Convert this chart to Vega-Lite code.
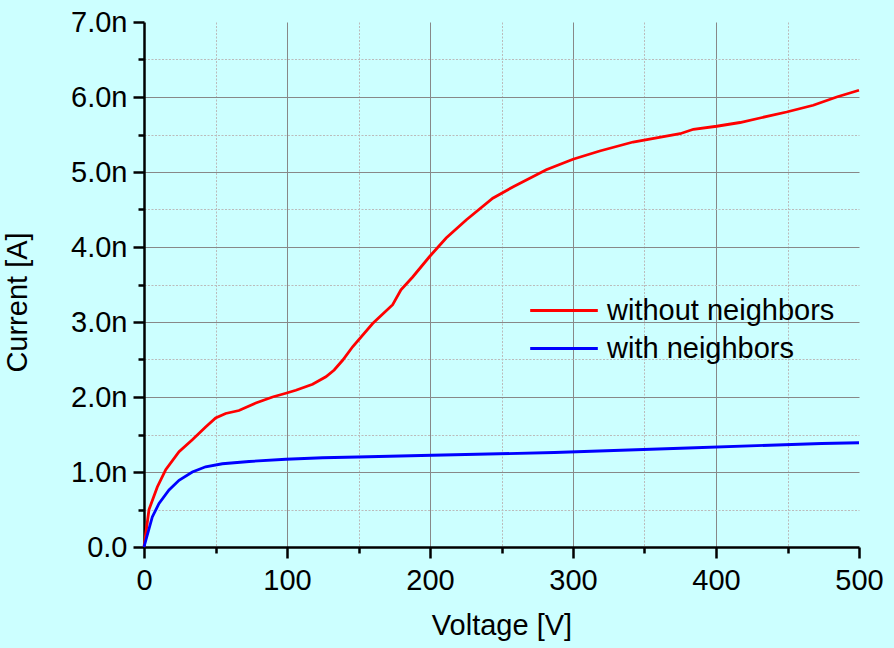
{
  "$schema": "https://vega.github.io/schema/vega-lite/v6.json",
  "width": 715,
  "height": 525,
  "autosize": "none",
  "padding": {"left": 144, "top": 22, "right": 35, "bottom": 101},
  "background": "#ccffff",
  "config": {
    "view": {"stroke": null},
    "font": "Liberation Sans",
    "axis": {
      "labelFont": "Liberation Sans",
      "titleFont": "Liberation Sans",
      "labelFontSize": 29,
      "titleFontSize": 29,
      "titleFontWeight": "normal",
      "labelColor": "#000000",
      "titleColor": "#000000",
      "tickColor": "#000000",
      "domainColor": "#000000",
      "domainWidth": 2.5,
      "tickWidth": 2.5,
      "labelFlush": false
    },
    "legend": {
      "labelFont": "Liberation Sans",
      "labelFontSize": 29,
      "labelColor": "#000000",
      "labelLimit": 0
    }
  },
  "data": {
    "values": [
      {"series": "without neighbors", "V": 0, "I": 0},
      {"series": "without neighbors", "V": 3.5, "I": 0.5},
      {"series": "without neighbors", "V": 9.3, "I": 0.8},
      {"series": "without neighbors", "V": 15.2, "I": 1.03},
      {"series": "without neighbors", "V": 24.5, "I": 1.27},
      {"series": "without neighbors", "V": 33.8, "I": 1.43},
      {"series": "without neighbors", "V": 43.1, "I": 1.6},
      {"series": "without neighbors", "V": 50.1, "I": 1.72},
      {"series": "without neighbors", "V": 57.1, "I": 1.78},
      {"series": "without neighbors", "V": 66.4, "I": 1.82},
      {"series": "without neighbors", "V": 78.2, "I": 1.92},
      {"series": "without neighbors", "V": 89.9, "I": 2.0},
      {"series": "without neighbors", "V": 99.2, "I": 2.05},
      {"series": "without neighbors", "V": 106.2, "I": 2.09},
      {"series": "without neighbors", "V": 117.9, "I": 2.17},
      {"series": "without neighbors", "V": 127.2, "I": 2.27},
      {"series": "without neighbors", "V": 133, "I": 2.36},
      {"series": "without neighbors", "V": 138.9, "I": 2.49},
      {"series": "without neighbors", "V": 145.9, "I": 2.67},
      {"series": "without neighbors", "V": 159.9, "I": 2.98},
      {"series": "without neighbors", "V": 173.9, "I": 3.23},
      {"series": "without neighbors", "V": 179.7, "I": 3.43},
      {"series": "without neighbors", "V": 187.9, "I": 3.6},
      {"series": "without neighbors", "V": 199.6, "I": 3.87},
      {"series": "without neighbors", "V": 211.3, "I": 4.12},
      {"series": "without neighbors", "V": 225.3, "I": 4.36},
      {"series": "without neighbors", "V": 243.9, "I": 4.65},
      {"series": "without neighbors", "V": 257.9, "I": 4.8},
      {"series": "without neighbors", "V": 281.3, "I": 5.03},
      {"series": "without neighbors", "V": 300, "I": 5.17},
      {"series": "without neighbors", "V": 318.7, "I": 5.28},
      {"series": "without neighbors", "V": 342, "I": 5.4},
      {"series": "without neighbors", "V": 374.9, "I": 5.51},
      {"series": "without neighbors", "V": 384.2, "I": 5.57},
      {"series": "without neighbors", "V": 400.5, "I": 5.61},
      {"series": "without neighbors", "V": 416.8, "I": 5.66},
      {"series": "without neighbors", "V": 430.8, "I": 5.72},
      {"series": "without neighbors", "V": 449.4, "I": 5.8},
      {"series": "without neighbors", "V": 468, "I": 5.89},
      {"series": "without neighbors", "V": 484.4, "I": 6.0},
      {"series": "without neighbors", "V": 500, "I": 6.09},
      {"series": "with neighbors", "V": 0, "I": 0},
      {"series": "with neighbors", "V": 5.8, "I": 0.4},
      {"series": "with neighbors", "V": 10.5, "I": 0.58},
      {"series": "with neighbors", "V": 17.5, "I": 0.76},
      {"series": "with neighbors", "V": 24.5, "I": 0.89},
      {"series": "with neighbors", "V": 33.8, "I": 1.0},
      {"series": "with neighbors", "V": 43.1, "I": 1.07},
      {"series": "with neighbors", "V": 54.8, "I": 1.11},
      {"series": "with neighbors", "V": 73.5, "I": 1.14},
      {"series": "with neighbors", "V": 99.2, "I": 1.17},
      {"series": "with neighbors", "V": 124.9, "I": 1.19},
      {"series": "with neighbors", "V": 149.4, "I": 1.2},
      {"series": "with neighbors", "V": 193.8, "I": 1.22},
      {"series": "with neighbors", "V": 287, "I": 1.26},
      {"series": "with neighbors", "V": 380.5, "I": 1.32},
      {"series": "with neighbors", "V": 473.9, "I": 1.38},
      {"series": "with neighbors", "V": 500, "I": 1.39}
    ]
  },
  "resolve": {"axis": {"x": "independent", "y": "independent"}},
  "layer": [
    {
      "mark": {"type": "line", "opacity": 0},
      "encoding": {
        "x": {
          "field": "V", "type": "quantitative",
          "scale": {"domain": [0, 500], "nice": false, "zero": false},
          "axis": {
            "orient": "bottom", "values": [50, 150, 250, 350, 450],
            "labels": false, "title": null, "domain": false,
            "tickSize": 6, "grid": true, "gridColor": "#bbbbbb",
            "gridDash": [2, 1.5], "gridWidth": 1
          }
        },
        "y": {
          "field": "I", "type": "quantitative",
          "scale": {"domain": [0, 7], "nice": false, "zero": false},
          "axis": {
            "orient": "left", "values": [0.5, 1.5, 2.5, 3.5, 4.5, 5.5, 6.5],
            "labels": false, "title": null, "domain": false,
            "tickSize": 6, "grid": true, "gridColor": "#bbbbbb",
            "gridDash": [2, 1.5], "gridWidth": 1
          }
        },
        "detail": {"field": "series"}
      }
    },
    {
      "mark": {"type": "line", "strokeWidth": 2.8},
      "encoding": {
        "x": {
          "field": "V", "type": "quantitative",
          "scale": {"domain": [0, 500], "nice": false, "zero": false},
          "axis": {
            "orient": "bottom", "values": [0, 100, 200, 300, 400, 500],
            "title": "Voltage [V]", "tickSize": 11, "labelPadding": 8,
            "titlePadding": 16, "grid": true, "gridColor": "#888888",
            "gridWidth": 1,
            "gridOpacity": {"condition": {"test": "datum.value == 500 || datum.value == 0", "value": 0}, "value": 1}
          }
        },
        "y": {
          "field": "I", "type": "quantitative",
          "scale": {"domain": [0, 7], "nice": false, "zero": false},
          "axis": {
            "orient": "left", "values": [0, 1, 2, 3, 4, 5, 6, 7],
            "title": "Current [A]", "tickSize": 11, "labelPadding": 6,
            "labelExpr": "datum.value == 0 ? '0.0' : format(datum.value, '.1f') + 'n'",
            "titleX": -112, "titleY": 280, "titleAngle": -90,
            "titleAlign": "center", "titleBaseline": "bottom",
            "grid": true, "gridColor": "#888888", "gridWidth": 1,
            "gridOpacity": {"condition": {"test": "datum.value == 7 || datum.value == 0", "value": 0}, "value": 1}
          }
        },
        "color": {
          "field": "series", "type": "nominal", "sort": null,
          "scale": {"domain": ["without neighbors", "with neighbors"], "range": ["#ff0000", "#0000ff"]},
          "legend": {
            "title": null, "orient": "none", "legendX": 405.5, "legendY": 274,
            "symbolType": "M-3,0H3", "symbolSize": 508, "symbolStrokeWidth": 2.8,
            "labelOffset": 28.5, "padding": 0, "rowPadding": 8, "labelLimit": 0
          }
        }
      }
    }
  ]
}
